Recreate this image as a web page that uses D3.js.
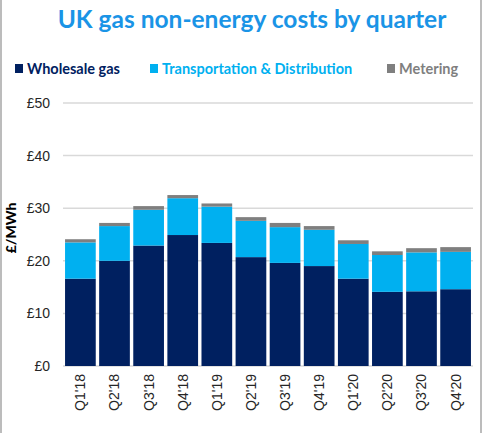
<!DOCTYPE html>
<html>
<head>
<meta charset="utf-8">
<script src="https://cdn.jsdelivr.net/npm/d3@7"></script>
<style>
  body { margin: 0; background: #fff; }
  svg { display: block; }
</style>
</head>
<body>
<div id="chart"></div>
<script>
const quarters = ["Q1'18", "Q2'18", "Q3'18", "Q4'18", "Q1'19", "Q2'19", "Q3'19", "Q4'19", "Q1'20", "Q2'20", "Q3'20", "Q4'20"];
const wholesale = [16.6, 20.0, 22.9, 24.9, 23.4, 20.7, 19.6, 19.0, 16.6, 14.1, 14.2, 14.6];
const transport = [6.9, 6.6, 6.8, 7.0, 6.9, 6.9, 6.8, 6.9, 6.6, 7.0, 7.4, 7.1];
const metering = [0.6, 0.6, 0.7, 0.6, 0.6, 0.7, 0.8, 0.7, 0.7, 0.7, 0.8, 0.9];
const yTicks = [0, 10, 20, 30, 40, 50];

const seriesNames = ["Wholesale gas", "Transportation & Distribution", "Metering"];
const seriesColors = ["#002060", "#00b0f0", "#7f7f7f"];

const width = 483, height = 433;
const margin = { top: 103, right: 10, bottom: 67, left: 63 };

const svg = d3.select("#chart")
    .append("svg")
    .attr("width", width)
    .attr("height", height);

// frame lines at left and right edges
svg.append("line").attr("x1", 1).attr("x2", 1).attr("y1", 0).attr("y2", height)
    .attr("stroke", "#a6a6a6").attr("stroke-width", 1.5);
svg.append("line").attr("x1", 481).attr("x2", 481).attr("y1", 0).attr("y2", height)
    .attr("stroke", "#a6a6a6").attr("stroke-width", 1.5);

// Title
svg.append("text")
    .attr("x", 252)
    .attr("y", 28)
    .attr("text-anchor", "middle")
    .attr("font-family", "Lato, sans-serif")
    .attr("font-weight", "bold")
    .attr("font-size", "24.5px")
    .attr("fill", "#1a94e6")
    .text("UK gas non-energy costs by quarter");

// Legend
const legendX = [15, 150, 387];
const legend = svg.append("g");
seriesNames.forEach((name, i) => {
    legend.append("rect")
        .attr("x", legendX[i])
        .attr("y", 64)
        .attr("width", 8)
        .attr("height", 9)
        .attr("fill", seriesColors[i]);
    legend.append("text")
        .attr("x", legendX[i] + 12)
        .attr("y", 73.5)
        .attr("font-family", "Lato, sans-serif")
        .attr("font-weight", "bold")
        .attr("font-size", "14.5px")
        .attr("fill", seriesColors[i])
        .text(name);
});

// Scales
const x = d3.scaleBand()
    .domain(quarters)
    .range([margin.left, width - margin.right])
    .paddingInner(0.1)
    .paddingOuter(0.06);

const y = d3.scaleLinear()
    .domain([0, 50])
    .range([height - margin.bottom, margin.top]);

// Gridlines
svg.append("g")
    .selectAll("line")
    .data(yTicks)
    .enter()
    .append("line")
    .attr("x1", margin.left)
    .attr("x2", width - margin.right)
    .attr("y1", d => y(d))
    .attr("y2", d => y(d))
    .attr("stroke", "#d9d9d9")
    .attr("stroke-width", 1.5);

// Stacked data
const rows = quarters.map((q, i) => ({
    quarter: q,
    "Wholesale gas": wholesale[i],
    "Transportation & Distribution": transport[i],
    "Metering": metering[i]
}));
const stacked = d3.stack().keys(seriesNames)(rows);

svg.append("g")
    .selectAll("g")
    .data(stacked)
    .enter()
    .append("g")
    .attr("fill", (d, i) => seriesColors[i])
    .selectAll("rect")
    .data(d => d)
    .enter()
    .append("rect")
    .attr("x", d => x(d.data.quarter))
    .attr("y", d => y(d[1]))
    .attr("width", x.bandwidth())
    .attr("height", d => y(d[0]) - y(d[1]));

// Y axis labels
const yAxis = svg.append("g")
    .attr("transform", `translate(${margin.left},0)`)
    .call(d3.axisLeft(y).tickValues(yTicks).tickFormat(d => "£" + d).tickSize(0).tickPadding(13));
yAxis.select(".domain").remove();
yAxis.selectAll("text")
    .attr("font-family", "Liberation Sans, Arial, sans-serif")
    .attr("font-size", "14px")
    .attr("fill", "#262626");

// X axis labels (rotated)
const xAxis = svg.append("g")
    .attr("transform", `translate(0,${height - margin.bottom})`)
    .call(d3.axisBottom(x).tickSize(0).tickPadding(0));
xAxis.select(".domain").remove();
xAxis.selectAll("text")
    .attr("font-family", "Liberation Sans, Arial, sans-serif")
    .attr("font-size", "14px")
    .attr("fill", "#262626")
    .attr("text-anchor", "end")
    .attr("dy", "0.35em")
    .attr("transform", "translate(0,8) rotate(-90)");

// Y axis title
svg.append("text")
    .attr("transform", "translate(16,228) rotate(-90)")
    .attr("text-anchor", "middle")
    .attr("font-family", "Lato, sans-serif")
    .attr("font-weight", "900")
    .attr("font-size", "14px")
    .attr("fill", "#000")
    .text("£/MWh");
</script>
</body>
</html>
